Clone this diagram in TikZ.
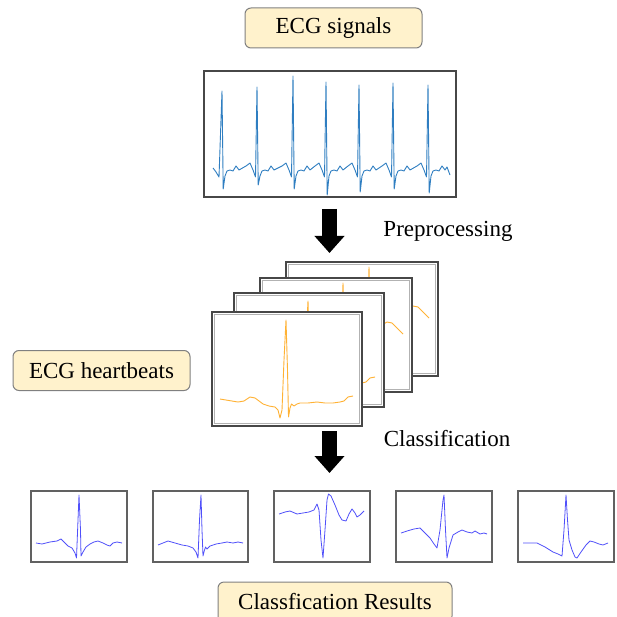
\documentclass[tikz,border=0pt]{standalone}
\usepackage{fontspec}
\setmainfont{Liberation Serif}
\usetikzlibrary{arrows.meta}

\definecolor{boxfill}{RGB}{255,242,204}
\definecolor{boxline}{RGB}{128,128,128}
\definecolor{ecgblue}{RGB}{47,126,193}
\definecolor{beatorange}{RGB}{255,178,52}
\definecolor{resblue}{RGB}{80,80,250}

\tikzset{
  labelbox/.style={draw=boxline, fill=boxfill, rounded corners=6pt, line width=1pt,
    minimum width=177pt, minimum height=40pt, inner sep=0pt, outer sep=0pt,
    font=\fontsize{23}{27}\selectfont},
  steptext/.style={inner sep=0pt, font=\fontsize{23}{27}\selectfont},
  pframe/.style={draw=black!72, line width=1.6pt, fill=white, inner sep=0pt, outer sep=0pt, anchor=north west},
  pinner/.style={draw=black!30, line width=0.8pt},
  rframe/.style={draw=black!62, line width=1.2pt, fill=white, inner sep=0pt, outer sep=0pt,
    anchor=north west, minimum width=96pt, minimum height=71pt},
  sigline/.style={ecgblue, line width=0.9pt, line join=round},
  hbline/.style={beatorange, line width=0.9pt, line join=round},
  resline/.style={resblue, line width=0.8pt, line join=round},
  bigarrow/.style={line width=15pt, -{Triangle[width=29pt,length=17pt]}},
}

% framed picture with a light inner border line
\newcommand{\innerframe}[1]{%
  \draw[pinner] ([shift={(2.6pt,-2.6pt)}]#1.north west) rectangle ([shift={(-2.6pt,2.6pt)}]#1.south east);}

% single heartbeat, front frame coordinates
\newcommand{\drawbeatA}{%
  \draw[hbline] (220,399) -- (226,400) -- (232,401) -- (238,402) -- (244,401) -- (250,397)
    -- (255,398) -- (259,401) -- (263,404) -- (269,406) -- (275,407) -- (278,410) -- (280,418)
    -- (282,410) -- (284,360) -- (286,320) -- (287.5,370) -- (288.5,417) -- (290,408)
    -- (291.5,404) -- (294,406) -- (297,404) -- (300,403) -- (308,403) -- (317,402)
    -- (325,403) -- (333,403) -- (340,402) -- (344,401) -- (348,397) -- (353,396);}

% another heartbeat, coordinates relative to the frame corner
\newcommand{\drawbeatB}{%
  \draw[hbline] (8,93) -- (20,92) -- (35,94) -- (50,92) -- (62,96) -- (72,99) -- (78,101)
    -- (80,106) -- (81.5,60) -- (83,5) -- (84.5,60) -- (86,108) -- (89,100) -- (95,92)
    -- (103,84) -- (110,70) -- (117,55) -- (122,47) -- (127,44) -- (132,45) -- (137,50) -- (143,56);}

\begin{document}
\begin{tikzpicture}[x=1pt,y=-1pt]
\useasboundingbox (0,0) rectangle (616,617);

% ---- raw ECG recording ----
\node[labelbox] (lsig) at (333.5,28) {ECG signals};
\node[pframe, minimum width=252pt, minimum height=126pt] (sig) at (204,71) {};
\draw[sigline] (213,168) -- (216,172) -- (219,177) -- (222,91) -- (223.2,189) -- (225,176)
  -- (227,171) -- (230,170) -- (233,171) -- (236,166) -- (239,170)
  foreach \r/\p/\s in {257/87/185, 293/76/189, 326/82/195, 359/85/192, 393/83/189, 428/85/193}
  { -- (\r-11,166) -- (\r-7,163) -- (\r-4,170) -- (\r-1.5,177) -- (\r,\p) -- (\r+1.2,\s)
    -- (\r+3,176) -- (\r+5,171) -- (\r+8,170) -- (\r+11,171) -- (\r+14,166) -- (\r+17,170) }
  -- (447,167) -- (450,175);

% ---- preprocessing step ----
\coordinate (a1s) at (329.5,209);
\coordinate (a1e) at (329.5,253);
\draw[bigarrow] (a1s) -- (a1e);
\node[steptext] (tpre) at (448,231) {Preprocessing};

% ---- stack of segmented heartbeats (back to front) ----
\node[pframe, minimum width=152pt, minimum height=114pt] (hb4) at (286,262) {};
\innerframe{hb4}
\begin{scope}[shift={(286,262)}] \drawbeatB \end{scope}

\node[pframe, minimum width=152pt, minimum height=114pt] (hb3) at (260,278) {};
\innerframe{hb3}
\begin{scope}[shift={(260,278)}] \drawbeatB \end{scope}

\node[pframe, minimum width=150pt, minimum height=114pt] (hb2) at (234,293) {};
\innerframe{hb2}
\begin{scope}[shift={(22,-19)}] \drawbeatA \end{scope}

\node[pframe, minimum width=150pt, minimum height=114pt] (hb1) at (212,312) {};
\innerframe{hb1}
\drawbeatA

\node[labelbox] (lhb) at (101.5,370.5) {ECG heartbeats};

% ---- classification step ----
\coordinate (a2s) at (329.5,431);
\coordinate (a2e) at (329.5,473);
\draw[bigarrow] (a2s) -- (a2e);
\node[steptext] (tcls) at (447,439) {Classification};

% ---- classified beats ----
\node[rframe] (r1) at (31,491) {};
\draw[resline] (36,543) -- (42,544) -- (50,542) -- (57,541) -- (61,539) -- (64,542) -- (68,546)
  -- (72,548) -- (75,553) -- (76.5,558) -- (78,520) -- (79,495) -- (80.5,530) -- (81,556)
  -- (83,552) -- (86,547) -- (90,544) -- (94,542) -- (98,541) -- (103,543) -- (107,545)
  -- (110,546) -- (113,543) -- (117,542) -- (122,543);

\node[rframe, minimum width=95pt] (r2) at (153,491) {};
\draw[resline] (158,545) -- (163,543) -- (168,541) -- (175,543) -- (182,545) -- (188,546)
  -- (193,548) -- (196,552) -- (198,558) -- (199.5,520) -- (201,495) -- (202,530) -- (203,556)
  -- (204.5,550) -- (205.5,547) -- (207,549) -- (210,546) -- (216,544) -- (222,543)
  -- (227,542) -- (233,543) -- (238,542) -- (243,543);

\node[rframe] (r3) at (274,491) {};
\draw[resline] (279,514) -- (285,512) -- (290,511) -- (297,514) -- (303,513) -- (309,512)
  -- (314,510) -- (317,504) -- (319,510) -- (321,540) -- (323,558) -- (325,530) -- (327,500)
  -- (328.5,494) -- (331,496) -- (335,505) -- (339,515) -- (342,520) -- (346,521)
  -- (349,514) -- (352,509) -- (355,513) -- (357,517) -- (360,515) -- (364,511);

\node[rframe] (r4) at (396,491) {};
\draw[resline] (401,533) -- (407,531) -- (414,529) -- (420,528) -- (425,533) -- (430,538)
  -- (434,544) -- (437,548) -- (440,530) -- (443,500) -- (444,495) -- (445.5,530)
  -- (447,558) -- (449,548) -- (453,535) -- (458,532) -- (462,530) -- (467,532)
  -- (472,533) -- (475,531) -- (480,534) -- (484,533) -- (487,534);

\node[rframe] (r5) at (518,491) {};
\draw[resline] (523,543) -- (530,543) -- (537,543) -- (545,547) -- (553,552) -- (558,554)
  -- (562,556) -- (564,530) -- (566,495) -- (567.5,520) -- (569,540) -- (572,550)
  -- (575,557) -- (577,558) -- (581,552) -- (586,545) -- (590,541) -- (594,542)
  -- (599,544) -- (603,545) -- (608,543);

\node[labelbox, minimum width=234pt] (lres) at (335,602) {Classfication Results};
\end{tikzpicture}
\end{document}
